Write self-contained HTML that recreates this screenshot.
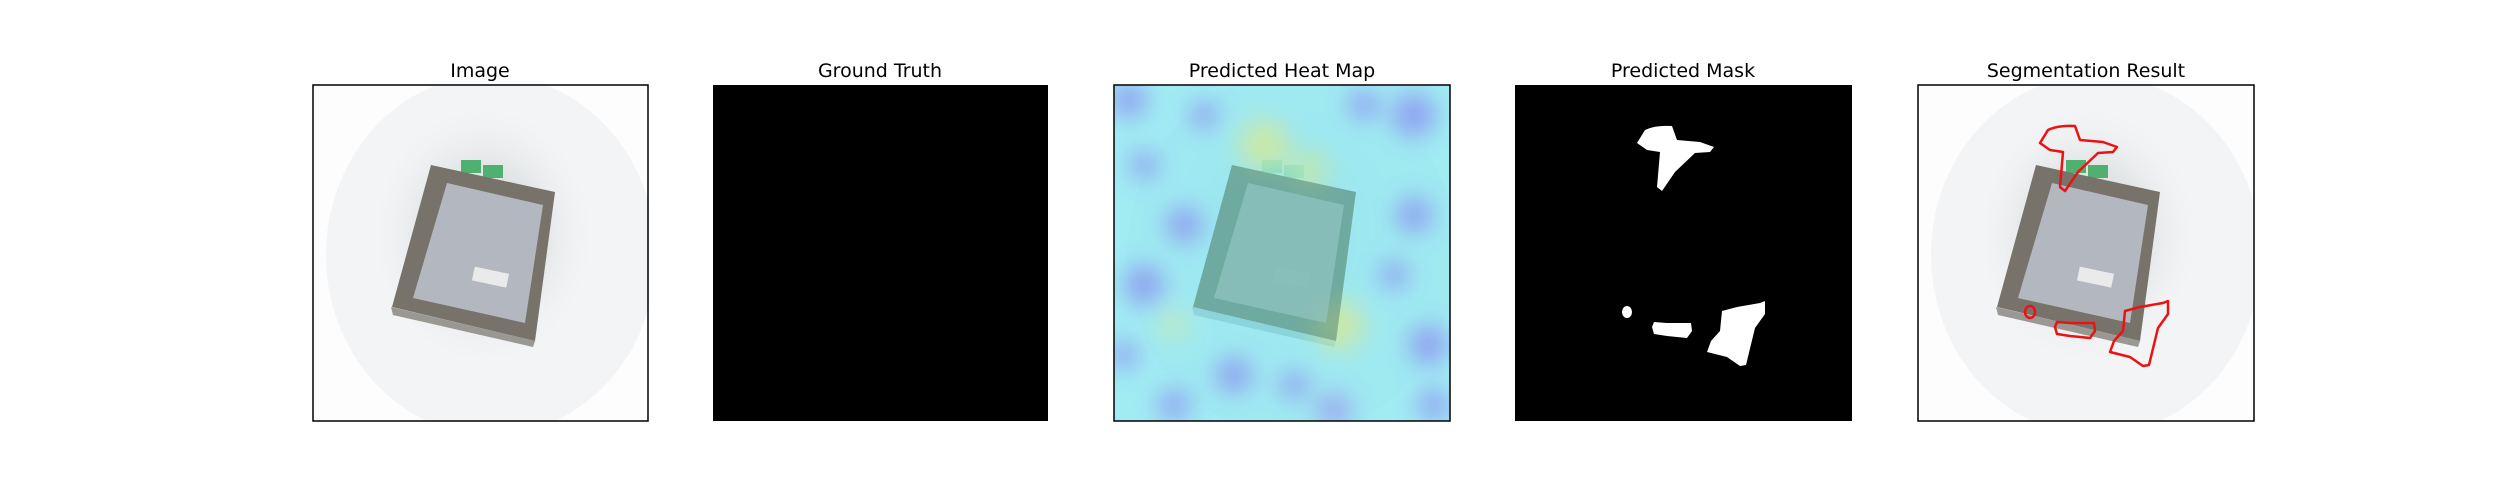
<!DOCTYPE html>
<html><head><meta charset="utf-8"><style>
html,body{margin:0;padding:0;background:#fff;}
svg{display:block;}
text{font-family:"DejaVu Sans","Liberation Sans",sans-serif;font-size:19px;fill:#000;}
</style></head><body>
<svg width="2500" height="500" viewBox="0 0 2500 500">
<defs>
  <radialGradient id="bg" cx="0.5" cy="0.5" r="0.5">
    <stop offset="0" stop-color="#d2d5d4"/>
    <stop offset="0.5" stop-color="#e3e6e6"/>
    <stop offset="1" stop-color="#f4f5f7" stop-opacity="0"/>
  </radialGradient>
  <clipPath id="pc"><rect x="0" y="0" width="336" height="336"/></clipPath>
  <filter id="blur8"><feGaussianBlur stdDeviation="12"/></filter>
  <g id="photo">
    <rect x="0" y="0" width="336" height="336" fill="#fdfdfd"/>
    <ellipse cx="178" cy="170" rx="165" ry="180" fill="#f3f4f6"/>
    <ellipse cx="170" cy="150" rx="120" ry="140" fill="url(#bg)"/>
    <polygon points="148,75 168,75 168,88 148,88" fill="#4fb070"/>
    <polygon points="170,80 190,80 190,93 170,93" fill="#4fb070"/>
    <polygon points="118,80 242,107 222,256 79,222" fill="#77736b"/>
    <polygon points="134,98 230,120 212,238 100,213" fill="#b3b7bf"/>
    <polygon points="78,222 222,256 220,262 80,230" fill="#9a9893"/>
    <rect x="160" y="185" width="35" height="14" fill="#eaeaea" transform="rotate(12 177 192)"/>
  </g>
</defs>

<g transform="translate(313,85)">
  <g clip-path="url(#pc)"><use href="#photo"/></g>
  <rect x="0" y="0" width="335" height="336" fill="none" stroke="#000" stroke-width="1.5"/>
</g>
<text x="480" y="77" text-anchor="middle">Image</text>

<g transform="translate(713,85)">
  <rect x="0" y="0" width="335" height="336" fill="#000"/>
</g>
<text x="880" y="77" text-anchor="middle">Ground Truth</text>

<g transform="translate(1114,85)">
  <g clip-path="url(#pc)">
    <use href="#photo"/>
    <rect x="0" y="0" width="336" height="336" fill="#86e6f0" opacity="0.78"/>
    <g filter="url(#blur8)" opacity="0.75">
      <circle cx="15" cy="15" r="18" fill="#8a8af0"/>
      <circle cx="90" cy="30" r="14" fill="#8a8af0"/>
      <circle cx="300" cy="30" r="22" fill="#8a8af0"/>
      <circle cx="250" cy="20" r="15" fill="#8a8af0"/>
      <circle cx="70" cy="140" r="18" fill="#8a8af0"/>
      <circle cx="30" cy="80" r="14" fill="#8a8af0"/>
      <circle cx="30" cy="200" r="20" fill="#8a8af0"/>
      <circle cx="300" cy="130" r="18" fill="#8a8af0"/>
      <circle cx="280" cy="190" r="14" fill="#8a8af0"/>
      <circle cx="315" cy="260" r="20" fill="#8a8af0"/>
      <circle cx="120" cy="290" r="18" fill="#8a8af0"/>
      <circle cx="60" cy="320" r="16" fill="#8a8af0"/>
      <circle cx="180" cy="300" r="14" fill="#8a8af0"/>
      <circle cx="220" cy="325" r="18" fill="#9a9af0"/>
      <circle cx="10" cy="270" r="14" fill="#8a8af0"/>
      <circle cx="320" cy="320" r="16" fill="#8a8af0"/>
      <circle cx="150" cy="60" r="25" fill="#d8e890"/>
      <circle cx="225" cy="240" r="25" fill="#d8e890"/>
      <circle cx="195" cy="85" r="20" fill="#c8e8a0"/>
      <circle cx="60" cy="240" r="15" fill="#c8eab0"/>
    </g>
    <polygon points="118,80 242,107 222,256 79,222" fill="#5f8e78" opacity="0.55"/>
    <polygon points="134,98 230,120 212,238 100,213" fill="#95c6c6" opacity="0.55"/>
  </g>
  <rect x="0" y="0" width="336" height="336" fill="none" stroke="#000" stroke-width="1.5"/>
</g>
<text x="1282" y="77" text-anchor="middle">Predicted Heat Map</text>

<g transform="translate(1515,85)">
  <rect x="0" y="0" width="337" height="336" fill="#000"/>
  <g fill="#fff">
    <path d="M130,45 Q140,40 157,41 L162,55 L185,57 L199,62 L195,67 L180,68 L160,87 L147,106 L142,102 L145,67 L132,65 L122,58 Z"/>
    <ellipse cx="112" cy="227" rx="5" ry="6"/>
    <path d="M139,237 L152,238 L176,238 L177,246 L172,253 L152,251 L139,249 L137,242 Z"/>
    <path d="M207,226 L222,222 L245,218 L250,216 L250,229 L240,243 L231,280 L225,281 L212,272 L192,267 L196,256 L205,246 Z"/>
  </g>
</g>
<text x="1683" y="77" text-anchor="middle">Predicted Mask</text>

<g transform="translate(1918,85)">
  <g clip-path="url(#pc)"><use href="#photo"/></g>
  <g fill="none" stroke="#ee1111" stroke-width="2.5" stroke-linejoin="round">
    <path d="M130,45 Q140,40 157,41 L162,55 L185,57 L199,62 L195,67 L180,68 L160,87 L147,106 L142,102 L145,67 L132,65 L122,58 Z"/>
    <ellipse cx="112" cy="227" rx="5" ry="6"/>
    <path d="M139,237 L152,238 L176,238 L177,246 L172,253 L152,251 L139,249 L137,242 Z"/>
    <path d="M207,226 L222,222 L245,218 L250,216 L250,229 L240,243 L231,280 L225,281 L212,272 L192,267 L196,256 L205,246 Z"/>
  </g>
  <rect x="0" y="0" width="336" height="336" fill="none" stroke="#000" stroke-width="1.5"/>
</g>
<text x="2086" y="77" text-anchor="middle">Segmentation Result</text>
</svg>
</body></html>
